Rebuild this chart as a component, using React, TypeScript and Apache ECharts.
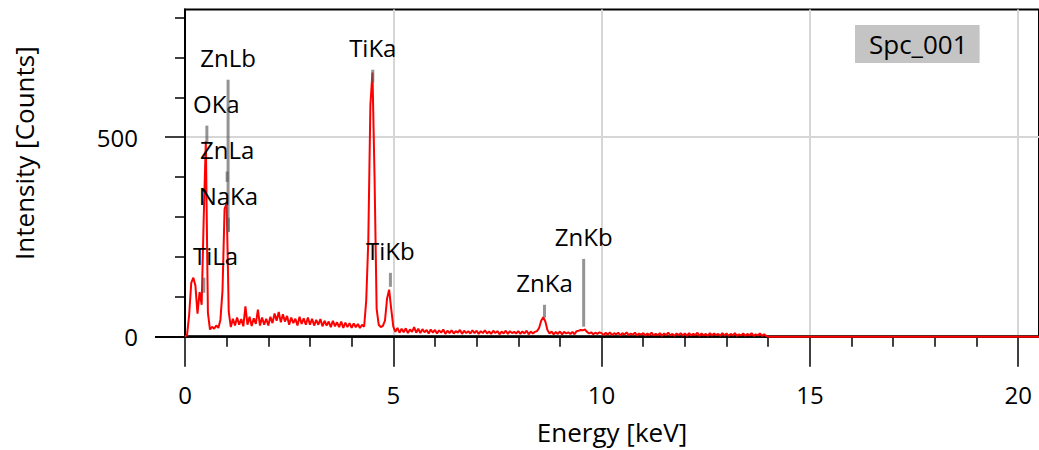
import React, { useEffect, useRef } from 'react';
import * as echarts from 'echarts';

// ---- Spectrum data (counts per 0.05 keV channel) ----
const channelStep = 0.05; // keV per channel
const counts_0 = [0, 5, 55, 135, 148, 128, 58, 112, 80, 300, 490, 60, 18, 25, 20, 28, 22, 42, 115, 320];
const counts_1 = [335, 62, 24, 45, 28, 48, 30, 44, 26, 76, 30, 50, 27, 46, 32, 68, 28, 48, 30, 45];
const counts_2 = [28, 50, 34, 58, 40, 62, 36, 56, 38, 52, 30, 48, 34, 45, 28, 50, 32, 46, 30, 48];
const counts_3 = [30, 45, 28, 42, 30, 44, 26, 40, 28, 38, 24, 40, 26, 36, 24, 38, 22, 35, 24, 34];
const counts_4 = [22, 33, 24, 32, 22, 30, 25, 90, 240, 580, 662, 400, 70, 30, 24, 27, 40, 95, 118, 70];
const counts_5 = [25, 12, 22, 10, 20, 11, 21, 9, 18, 12, 24, 10, 20, 9, 19, 11, 17, 8, 18, 10];
const counts_6 = [17, 8, 16, 10, 18, 7, 15, 9, 16, 8, 14, 10, 17, 7, 15, 9, 14, 8, 16, 9];
const counts_7 = [15, 7, 14, 9, 16, 8, 13, 7, 15, 9, 14, 6, 13, 8, 15, 7, 14, 9, 12, 8];
const counts_8 = [14, 7, 13, 8, 15, 6, 13, 8, 12, 14, 22, 40, 49, 38, 17, 8, 13, 6, 12, 7];
const counts_9 = [13, 6, 12, 8, 11, 7, 12, 6, 14, 15, 17, 16, 18, 12, 8, 11, 6, 10, 7, 11];
const counts_10 = [9, 4, 10, 5, 11, 4, 9, 6, 10, 3, 9, 5, 11, 4, 8, 5, 10, 3, 8, 5];
const counts_11 = [9, 3, 8, 4, 10, 3, 7, 4, 9, 2, 8, 4, 10, 3, 7, 2, 8, 4, 9, 3];
const counts_12 = [8, 2, 9, 3, 7, 4, 10, 2, 8, 3, 7, 2, 9, 3, 8, 4, 7, 2, 9, 3];
const counts_13 = [8, 2, 7, 3, 9, 2, 6, 3, 8, 2, 7, 3, 9, 2, 6, 3, 8, 2, 6, 2];
const tailEnergies = [14.0, 20.5];
const tailCounts = [0, 0];

// ---- Element (KLM) markers ----
const markerNames = ['TiLa', 'OKa', 'ZnLa', 'ZnLb', 'NaKa', 'TiKa', 'TiKb', 'ZnKa', 'ZnKb'];
const markerEnergies = [0.452, 0.525, 1.012, 1.034, 1.041, 4.508, 4.931, 8.63, 9.57];
const markerTops = [148, 529, 414, 644, 298, 669, 160, 80, 195];
const markerBottoms = [110, 486, 388, 262, 263, 637, 125, 48, 25];

// ---- Axis ticks ----
const xMajorTicks = [0, 5, 10, 15, 20];
const xMinorTicks = [1, 2, 3, 4, 6, 7, 8, 9, 11, 12, 13, 14, 16, 17, 18, 19];
const yLabels = [0, 500];
const yMinorTicks = [100, 200, 300, 400, 600, 700, 800];

const seriesName = 'Spc_001';
const FONT = "'Open Sans', 'Noto Sans', sans-serif";

export default function App() {
  const ref = useRef<HTMLDivElement>(null);
  useEffect(() => {
    if (!ref.current) return;
    const chart = echarts.init(ref.current, undefined, { renderer: 'svg' });

    const allCounts = [
      ...counts_0, ...counts_1, ...counts_2, ...counts_3, ...counts_4, ...counts_5, ...counts_6,
      ...counts_7, ...counts_8, ...counts_9, ...counts_10, ...counts_11, ...counts_12, ...counts_13,
    ];
    const spectrum: number[][] = allCounts.map((c, i) => [Math.round(i * channelStep * 100) / 100, c]);
    tailEnergies.forEach((e, i) => spectrum.push([e, tailCounts[i]]));

    const markerData = markerNames.map((n, i) => [markerEnergies[i], markerTops[i], markerBottoms[i]]);

    const ctx = document.createElement('canvas').getContext('2d')!;
    ctx.font = `24px ${FONT}`;

    const axisColor = '#000';
    const gridColor = '#d6d6d6';

    chart.setOption({
      animation: false,
      textStyle: { fontFamily: FONT },
      grid: {
        left: 185, top: 9.5, width: 858, height: 327.2,
        show: true, borderColor: '#000', borderWidth: 2,
      },
      legend: {
        left: 855, top: 25,
        data: [seriesName],
        itemWidth: 0, itemHeight: 0, itemGap: 0,
        backgroundColor: '#c4c4c4',
        padding: [6, 12, 6, 8],
        selectedMode: false,
        textStyle: { fontSize: 26, color: '#000', fontFamily: FONT },
      },
      xAxis: [
        {
          type: 'value', min: 0, max: 20.5, interval: 1, position: 'bottom',
          name: 'Energy [keV]', nameLocation: 'middle', nameGap: 82,
          nameTextStyle: { fontSize: 26, color: '#000', fontFamily: FONT },
          axisLine: { show: true, onZero: false, lineStyle: { color: axisColor, width: 2.5 } },
          axisTick: { show: true, length: 10, customValues: xMinorTicks, lineStyle: { color: axisColor, width: 1.5 } },
          axisLabel: { show: true, customValues: xMajorTicks, margin: 46, fontSize: 24, color: '#000', fontFamily: FONT },
          splitLine: { show: false },
        },
        {
          type: 'value', min: 0, max: 20.5, interval: 5, position: 'bottom',
          axisLine: { show: false },
          axisTick: { show: true, length: 30, customValues: xMajorTicks, lineStyle: { color: axisColor, width: 1.5 } },
          axisLabel: { show: false },
          splitLine: { show: true, lineStyle: { color: gridColor, width: 2 } },
        },
      ],
      yAxis: [
        {
          type: 'value', min: 0, max: 820, interval: 100, position: 'left',
          name: 'Intensity [Counts]', nameLocation: 'middle', nameGap: 148, nameRotate: 90,
          nameTextStyle: { fontSize: 26, color: '#000', fontFamily: FONT, padding: [0, 0, 0, 40] },
          axisLine: { show: true, onZero: false, lineStyle: { color: axisColor, width: 2 } },
          axisTick: { show: true, length: 10, customValues: yMinorTicks, lineStyle: { color: axisColor, width: 1.5 } },
          axisLabel: { show: true, customValues: yLabels, margin: 47, fontSize: 24, color: '#000', fontFamily: FONT },
          splitLine: { show: false },
        },
        {
          type: 'value', min: 0, max: 820, interval: 500, position: 'left',
          axisLine: { show: false },
          axisTick: { show: true, length: 20, customValues: [500], lineStyle: { color: axisColor, width: 1.5 } },
          axisLabel: { show: false },
          splitLine: { show: true, lineStyle: { color: gridColor, width: 2 } },
        },
        {
          type: 'value', min: 0, max: 820, interval: 500, position: 'left',
          axisLine: { show: false },
          axisTick: { show: true, length: 30, customValues: [0], lineStyle: { color: axisColor, width: 2 } },
          axisLabel: { show: false },
          splitLine: { show: false },
        },
      ],
      series: [
        {
          name: seriesName, type: 'line', xAxisIndex: 0, yAxisIndex: 0,
          data: spectrum, showSymbol: false, symbol: 'none', clip: false,
          lineStyle: { color: '#ff0000', width: 2 }, itemStyle: { color: '#ff0000' },
          z: 3,
        },
        {
          name: 'markers', type: 'custom', xAxisIndex: 0, yAxisIndex: 0, z: 4,
          data: markerData,
          renderItem: (params: any, api: any) => {
            const e = api.value(0);
            const p1 = api.coord([e, api.value(1)]);
            const p2 = api.coord([e, api.value(2)]);
            const name = markerNames[params.dataIndex];
            const w = ctx.measureText(name).width;
            const left = params.coordSys.x;
            const lx = Math.max(p1[0], left + 8 + w / 2);
            return {
              type: 'group',
              children: [
                { type: 'line', shape: { x1: p1[0], y1: p1[1], x2: p2[0], y2: p2[1] }, style: { stroke: 'rgba(90,90,90,0.65)', lineWidth: 3 } },
                { type: 'text', x: lx, y: p1[1] - 22, style: { text: name, fill: '#000', font: `24px ${FONT}`, align: 'center', verticalAlign: 'middle' } },
              ],
            };
          },
        },
      ],
    });
    return () => chart.dispose();
  }, []);
  return <div ref={ref} style={{ position: 'absolute', left: 0, top: 0, width: 1039, height: 450 }} />;
}
